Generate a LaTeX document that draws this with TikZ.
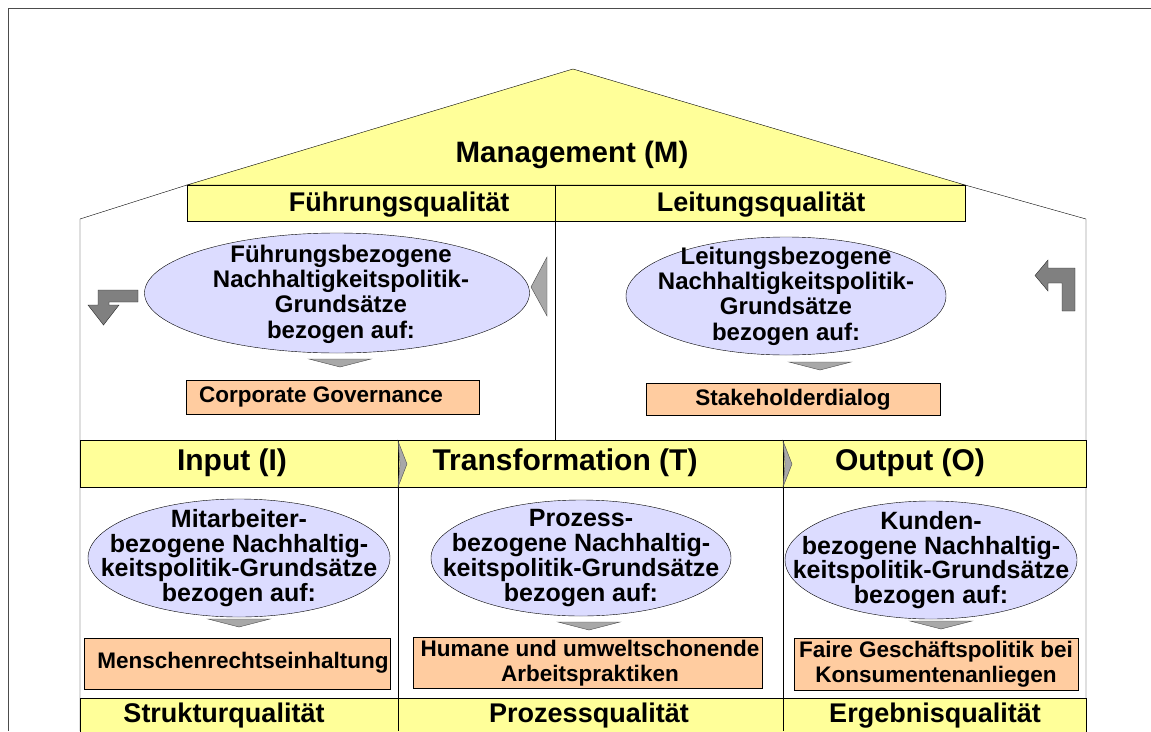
\documentclass[tikz,border=0pt]{standalone}
\usepackage{fontspec}
\setmainfont{Liberation Sans}
\usetikzlibrary{shapes.geometric}

\definecolor{houseyellow}{RGB}{255,255,153}
\definecolor{ovalblue}{RGB}{220,220,255}
\definecolor{goalpeach}{RGB}{255,204,160}
\definecolor{turngray}{RGB}{128,128,128}
\definecolor{wedgegray}{RGB}{168,168,168}

\tikzset{
  heading/.style={font=\fontsize{27}{30}\selectfont\bfseries, inner sep=0},
  stage/.style={font=\fontsize{30}{34}\selectfont\bfseries, inner sep=0},
  oval/.style={ellipse, draw, fill=ovalblue, inner sep=0},
  ovaltext/.style={align=center, inner sep=0, font=\fontsize{24}{25.3}\selectfont\bfseries},
  goal/.style={draw, fill=goalpeach},
  goaltext/.style={align=center, inner sep=0, font=\fontsize{22.5}{25}\selectfont\bfseries},
  wedge/.style={draw=black!70, fill=wedgegray},
  bentarrow/.style={draw=black!85, fill=turngray},
}

\begin{document}
\begin{tikzpicture}[x=1pt, y=-1pt]
    \useasboundingbox (0,0) rectangle (1151,731);
    % frame
    \draw[black!70, line width=1pt] (1151,8) -- (8,8) -- (8,731);

    % walls and roof
    \draw (80,731) -- (80,219) -- (187,185);
    \draw (965,185) -- (1086,219) -- (1086,731);
    \filldraw[fill=houseyellow] (187,185) -- (573,69) -- (965,185) -- cycle;
    \node[heading, font=\fontsize{29.5}{32}\selectfont\bfseries] (management) at (572,155) {Management (M)};

    % management row
    \filldraw[fill=houseyellow] (187,185) rectangle (965,221);
    \draw (555,185) -- (555,440);
    \node[heading] (fuehrung) at (399,205) {Führungsqualität};
    \node[heading] (leitung) at (761,205) {Leitungsqualität};

    \node[oval, minimum width=385pt, minimum height=120pt] (fpol) at (337,293) {};
    \node[ovaltext] (fpoltext) at (341,294) {Führungsbezogene\\Nachhaltigkeitspolitik-\\Grundsätze\\bezogen auf:};
    \node[oval, minimum width=320pt, minimum height=118pt] (lpol) at (786,296) {};
    \node[ovaltext] (lpoltext) at (lpol) {Leitungsbezogene\\Nachhaltigkeitspolitik-\\Grundsätze\\bezogen auf:};

    \filldraw[goal] (186,380) rectangle (479,414);
    \node[goaltext] (governance) at (321,397) {Corporate Governance};
    \filldraw[goal] (646,383) rectangle (940,415);
    \node[goaltext] (dialog) at (793,400) {Stakeholderdialog};

    % side arrows
    \filldraw[bentarrow] (138,290) -- (98,290) -- (98,305) -- (88,305) -- (103.5,325)
        -- (119,305) -- (109,305) -- (109,302) -- (138,302) -- cycle;
    \filldraw[bentarrow] (1075,311) -- (1075,268) -- (1048,268) -- (1048,260) -- (1035,275.5)
        -- (1048,291) -- (1048,283) -- (1062,283) -- (1062,311) -- cycle;
    \filldraw[wedge] (531,287) -- (547,257) -- (547,316) -- cycle;

    % stage rows
    \filldraw[fill=houseyellow] (80,440) rectangle (1086,487);
    \filldraw[fill=houseyellow] (80,698) rectangle (1086,740);
    \draw (398,440) -- (398,731);
    \draw (783,440) -- (783,731);
    \foreach \x in {398,783} {
        \filldraw[wedge] (\x,441) -- (\x+9,464) -- (\x,487) -- (\x+2,464) -- cycle;
      }
    \node[stage] (input) at (232,463) {Input (I)};
    \node[stage] (transformation) at (565,463) {Transformation (T)};
    \node[stage] (output) at (910,463) {Output (O)};

    \node[oval, minimum width=302pt, minimum height=118pt] (mpol) at (239,558) {};
    \node[ovaltext, font=\fontsize{25}{24.8}\selectfont\bfseries] (mpoltext) at (mpol) {Mitarbeiter-\\bezogene Nachhaltig-\\keitspolitik-Grundsätze\\bezogen auf:};
    \node[oval, minimum width=300pt, minimum height=116pt] (ppol) at (581,558) {};
    \node[ovaltext, font=\fontsize{25}{24.8}\selectfont\bfseries] (ppoltext) at (ppol) {Prozess-\\bezogene Nachhaltig-\\keitspolitik-Grundsätze\\bezogen auf:};
    \node[oval, minimum width=292pt, minimum height=118pt] (kpol) at (931,560) {};
    \node[ovaltext, font=\fontsize{25}{24.8}\selectfont\bfseries] (kpoltext) at (kpol) {Kunden-\\bezogene Nachhaltig-\\keitspolitik-Grundsätze\\bezogen auf:};

    \filldraw[goal] (84,638) rectangle (390,689);
    \node[goaltext] (rights) at (243,663) {Menschenrechtseinhaltung};
    \filldraw[goal] (413,637) rectangle (762,688);
    \node[goaltext] (practice) at (590,663) {Humane und umweltschonende\\Arbeitspraktiken};
    \filldraw[goal] (794,638) rectangle (1078,690);
    \node[goaltext] (consumer) at (936,664) {Faire Geschäftspolitik bei\\Konsumentenanliegen};

    % small wedges below the ovals
    \foreach \x/\y in {340/359, 820/362, 239/619, 589/622, 941/621} {
        \filldraw[wedge] (\x-31,\y) -- (\x+31,\y) -- (\x,\y+8) -- cycle;
      }

    \node[heading] (struktur) at (224,716) {Strukturqualität};
    \node[heading] (prozess) at (589,716) {Prozessqualität};
    \node[heading] (ergebnis) at (935,716) {Ergebnisqualität};
  \end{tikzpicture}
\end{document}
